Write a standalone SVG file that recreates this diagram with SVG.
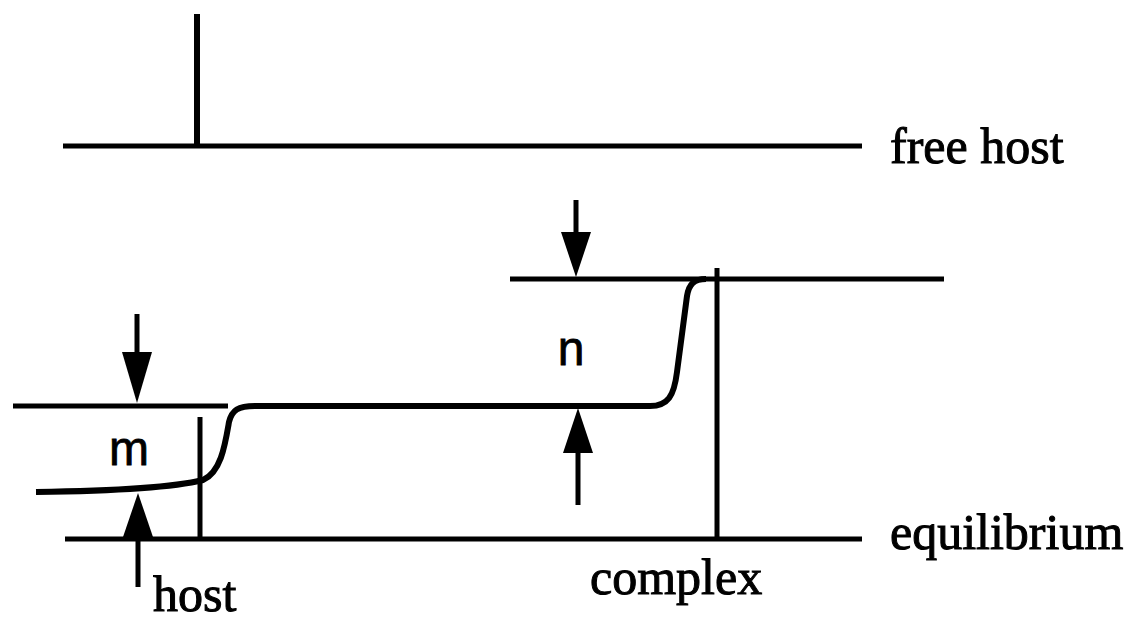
<svg xmlns="http://www.w3.org/2000/svg" width="1138" height="620" viewBox="0 0 1138 620">
<style>
.ln{stroke:#000;stroke-width:5;fill:none;stroke-linecap:butt}
.cv{stroke:#000;stroke-width:6;fill:none;stroke-linejoin:round}
.ah{fill:#000;stroke:none}
.lbl{font-family:"Liberation Serif","Times New Roman",serif;font-size:50px;fill:#000;stroke:#000;stroke-width:1}
.sym{font-family:"Liberation Sans",Arial,sans-serif;font-size:48px;fill:#000;stroke:#000;stroke-width:0.8;text-anchor:middle}
</style>
<rect width="1138" height="620" fill="#fff"/>
<g id="free-host">
<line class="ln" x1="63" y1="146" x2="862" y2="146"/>
<line class="ln" x1="197" y1="14" x2="197" y2="146" style="stroke-width:6"/>
<text class="lbl" x="890" y="163">free host</text>
</g>
<g id="equilibrium">
<line class="ln" x1="65" y1="539" x2="862" y2="539"/>
<text class="lbl" x="890" y="549">equilibrium</text>
</g>
<g id="levels">
<line class="ln" x1="13" y1="406" x2="228" y2="406"/>
<line class="ln" x1="510" y1="279" x2="944" y2="279"/>
<line class="ln" x1="200" y1="417" x2="200" y2="539"/>
<line class="ln" x1="717" y1="268" x2="717" y2="539"/>
<path class="cv" d="M36 492 C110 491 175 487 203 480 C221 472 225 445 229 422 C232 410 238 406 255 406 L650 406 C668 406 674 396 677 372 L687 296 C689 284 694 279 706 279"/>
</g>
<g id="host">
<text class="lbl" x="153" y="611">host</text>
</g>
<g id="complex">
<text class="lbl" x="590" y="594">complex</text>
</g>
<g id="m">
<text class="sym" x="129" y="465">m</text>
</g>
<g id="n">
<text class="sym" x="571" y="365">n</text>
</g>
<g id="connectors">
<line class="ln" x1="137" y1="314" x2="137" y2="360"/>
<polygon class="ah" points="122,352 152,352 137,403"/>
<line class="ln" x1="138" y1="528" x2="138" y2="587"/>
<polygon class="ah" points="123,537 153,537 138,493"/>
<line class="ln" x1="576" y1="200" x2="576" y2="240"/>
<polygon class="ah" points="561,232 591,232 576,277"/>
<line class="ln" x1="578" y1="445" x2="578" y2="505"/>
<polygon class="ah" points="563,453 593,453 578,408"/>
</g>
</svg>
